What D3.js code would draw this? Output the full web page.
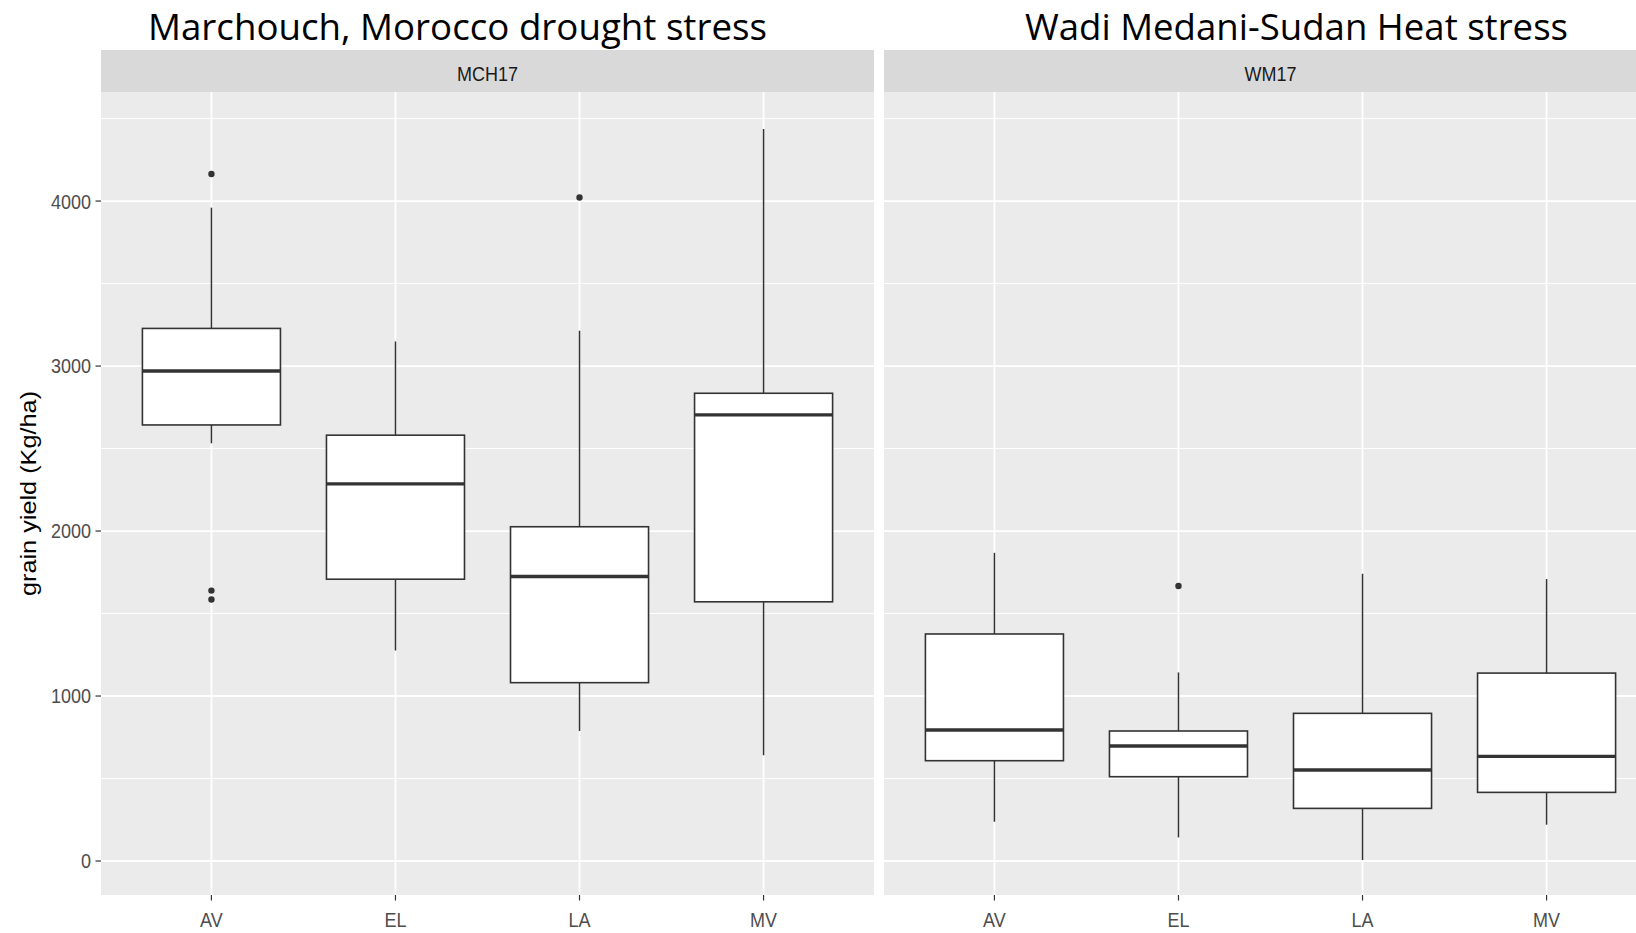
<!DOCTYPE html>
<html lang="en">
<head>
<meta charset="utf-8"/>
<title>grain yield boxplots</title>
<script src="https://d3js.org/d3.v7.min.js"></script>
<style>
body { margin: 0; background: #fff; }
.tick-label { font-family: "Liberation Sans", Arial, sans-serif; font-size: 18px; fill: #4d4d4d; }
.strip-label { font-family: "Liberation Sans", Arial, sans-serif; font-size: 18px; fill: #1a1a1a; }
.big-title { font-family: "Open Sans", sans-serif; font-size: 36px; fill: #000; }
</style>
</head>
<body>
<div id="chart"></div>
<script>
// data
var categories = ["AV", "EL", "LA", "MV"];
var panelNames = ["MCH17", "WM17"];
var panelTitles = ["Marchouch, Morocco drought stress", "Wadi Medani-Sudan Heat stress"];

var mchLower  = [2532, 1276,  788,  641];
var mchQ1     = [2643, 1708, 1081, 1571];
var mchMedian = [2970, 2286, 1724, 2704];
var mchQ3     = [3228, 2581, 2026, 2835];
var mchUpper  = [3960, 3149, 3214, 4436];
var mchOutliers = [[4164, 1639, 1585], [], [4022], []];

var wmLower  = [ 238,  143,    6,  220];
var wmQ1     = [ 608,  511,  319,  416];
var wmMedian = [ 794,  697,  552,  634];
var wmQ3     = [1376,  788,  895, 1139];
var wmUpper  = [1868, 1143, 1741, 1709];
var wmOutliers = [[], [1667], [], []];

var yTicks = [0, 1000, 2000, 3000, 4000];
var yMinor = [500, 1500, 2500, 3500, 4500];
var yLimits = [-206, 4661];

function boxRows(lower, q1, med, q3, upper, outl) {
  return categories.map(function(c, i) {
    return {cat: c, lower: lower[i], q1: q1[i], median: med[i], q3: q3[i], upper: upper[i], outliers: outl[i]};
  });
}
var panelData = [
  boxRows(mchLower, mchQ1, mchMedian, mchQ3, mchUpper, mchOutliers),
  boxRows(wmLower, wmQ1, wmMedian, wmQ3, wmUpper, wmOutliers)
];

var W = 1636, H = 933;
var panelTop = 92, panelBottom = 895, stripTop = 50;
var panelWidth = 773, panelLefts = [101, 884];
var stretch = 1.15; // the source picture is a bit taller than wide

var svg = d3.select("#chart").append("svg")
  .attr("width", W)
  .attr("height", H);

var y = d3.scaleLinear()
  .domain(yLimits)
  .range([panelBottom, panelTop]);

var x = d3.scalePoint()
  .domain(categories)
  .range([0, panelWidth])
  .padding(0.6);

var boxW = x.step() * 0.75;

panelData.forEach(function(rows, p) {
  var g = svg.append("g").attr("transform", "translate(" + panelLefts[p] + ",0)");

  // big slide titles
  svg.append("text")
    .attr("class", "big-title")
    .attr("x", p === 0 ? 148 : 1025)
    .attr("y", 40)
    .attr("textLength", p === 0 ? 619 : 543)
    .attr("lengthAdjust", "spacingAndGlyphs")
    .text(panelTitles[p]);

  // strip
  g.append("rect")
    .attr("y", stripTop)
    .attr("width", panelWidth)
    .attr("height", panelTop - stripTop)
    .attr("fill", "#d9d9d9");
  g.append("text")
    .attr("class", "strip-label")
    .attr("text-anchor", "middle")
    .attr("transform", "translate(" + (panelWidth / 2) + ",81) scale(1," + stretch + ")")
    .text(panelNames[p]);

  // panel background and grid
  g.append("rect")
    .attr("y", panelTop)
    .attr("width", panelWidth)
    .attr("height", panelBottom - panelTop)
    .attr("fill", "#ebebeb");

  g.selectAll(".minor").data(yMinor).enter().append("line")
    .attr("x1", 0).attr("x2", panelWidth)
    .attr("y1", function(d) { return y(d); })
    .attr("y2", function(d) { return y(d); })
    .attr("stroke", "#fff").attr("stroke-width", 1);

  g.selectAll(".major").data(yTicks).enter().append("line")
    .attr("x1", 0).attr("x2", panelWidth)
    .attr("y1", function(d) { return y(d); })
    .attr("y2", function(d) { return y(d); })
    .attr("stroke", "#fff").attr("stroke-width", 1.8);

  g.selectAll(".vgrid").data(categories).enter().append("line")
    .attr("x1", function(d) { return x(d); })
    .attr("x2", function(d) { return x(d); })
    .attr("y1", panelTop).attr("y2", panelBottom)
    .attr("stroke", "#fff").attr("stroke-width", 1.8);

  // x axis ticks + labels
  g.selectAll(".xtick").data(categories).enter().append("line")
    .attr("x1", function(d) { return x(d); })
    .attr("x2", function(d) { return x(d); })
    .attr("y1", panelBottom).attr("y2", panelBottom + 5.5)
    .attr("stroke", "#333").attr("stroke-width", 1.2);

  g.selectAll(".xlab").data(categories).enter().append("text")
    .attr("class", "tick-label")
    .attr("text-anchor", "middle")
    .attr("transform", function(d) { return "translate(" + x(d) + ",927) scale(1," + stretch + ")"; })
    .text(function(d) { return d; });

  // boxes
  var box = g.selectAll(".box").data(rows).enter().append("g");

  box.append("line")
    .attr("x1", function(d) { return x(d.cat); })
    .attr("x2", function(d) { return x(d.cat); })
    .attr("y1", function(d) { return y(d.upper); })
    .attr("y2", function(d) { return y(d.q3); })
    .attr("stroke", "#333").attr("stroke-width", 1.5);

  box.append("line")
    .attr("x1", function(d) { return x(d.cat); })
    .attr("x2", function(d) { return x(d.cat); })
    .attr("y1", function(d) { return y(d.q1); })
    .attr("y2", function(d) { return y(d.lower); })
    .attr("stroke", "#333").attr("stroke-width", 1.5);

  box.append("rect")
    .attr("x", function(d) { return x(d.cat) - boxW / 2; })
    .attr("y", function(d) { return y(d.q3); })
    .attr("width", boxW)
    .attr("height", function(d) { return y(d.q1) - y(d.q3); })
    .attr("fill", "#fff")
    .attr("stroke", "#333").attr("stroke-width", 1.6);

  box.append("line")
    .attr("x1", function(d) { return x(d.cat) - boxW / 2; })
    .attr("x2", function(d) { return x(d.cat) + boxW / 2; })
    .attr("y1", function(d) { return y(d.median); })
    .attr("y2", function(d) { return y(d.median); })
    .attr("stroke", "#333").attr("stroke-width", 3.4);

  box.selectAll("circle")
    .data(function(d) { return d.outliers.map(function(v) { return {cat: d.cat, v: v}; }); })
    .enter().append("circle")
    .attr("cx", function(d) { return x(d.cat); })
    .attr("cy", function(d) { return y(d.v); })
    .attr("r", 3.2)
    .attr("fill", "#333");
});

// y axis (left panel only)
var ya = svg.append("g");
ya.selectAll("line").data(yTicks).enter().append("line")
  .attr("x1", 95.5).attr("x2", panelLefts[0])
  .attr("y1", function(d) { return y(d); })
  .attr("y2", function(d) { return y(d); })
  .attr("stroke", "#333").attr("stroke-width", 1.2);
ya.selectAll("text").data(yTicks).enter().append("text")
  .attr("class", "tick-label")
  .attr("text-anchor", "end")
  .attr("dy", "0.36em")
  .attr("transform", function(d) { return "translate(91," + y(d) + ") scale(1," + stretch + ")"; })
  .text(function(d) { return d; });

svg.append("text")
  .attr("font-family", "Liberation Sans, Arial, sans-serif")
  .attr("font-size", 22)
  .attr("fill", "#000")
  .attr("text-anchor", "middle")
  .attr("transform", "translate(36," + ((panelTop + panelBottom) / 2) + ") rotate(-90) scale(" + stretch + ",1)")
  .text("grain yield (Kg/ha)");
</script>
</body>
</html>
